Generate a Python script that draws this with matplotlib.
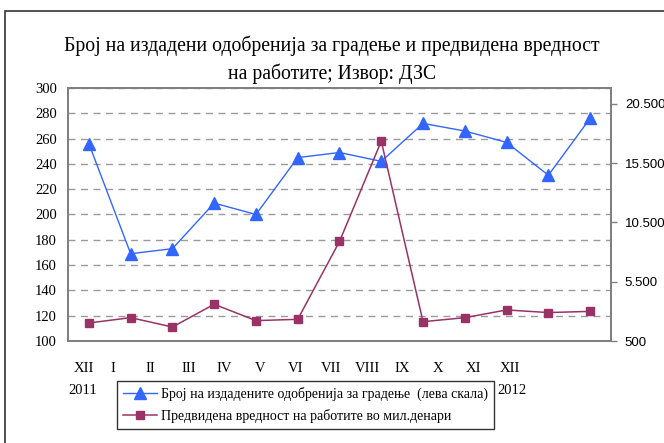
import matplotlib
matplotlib.use("Agg")
import matplotlib.pyplot as plt
from matplotlib.patches import Rectangle

# data
months = ["XII", "I", "II", "III", "IV", "V", "VI", "VII", "VIII", "IX", "X", "XI", "XII"]
years = ["2011", "2012"]
permits = [256, 169, 173, 209, 200, 245, 249, 242, 272, 266, 257, 231, 276]
value_mkd = [2020, 2470, 1680, 3600, 2220, 2330, 8900, 17360, 2130, 2470, 3120, 2900, 3000]
left_ticks = [100, 120, 140, 160, 180, 200, 220, 240, 260, 280, 300]
right_ticks = [500, 5500, 10500, 15500, 20500]
right_labels = ["500", "5.500", "10.500", "15.500", "20.500"]

title = "Број на издадени одобренија за градење и предвидена вредност\nна работите; Извор: ДЗС"
label_permits = "Број на издадените одобренија за градење  (лева скала)"
label_value = "Предвидена вредност на работите во мил.денари"

W, H = 664, 443
serif = "Liberation Serif"
blue = "#3366ff"
purple = "#993366"

fig = plt.figure(figsize=(W / 100, H / 100), dpi=100)

# outer chart border (cut off at right / bottom like the screenshot)
fig.patches.append(Rectangle((5 / W, -0.05), 1.1, 1 - 11 / H + 0.05, transform=fig.transFigure,
                             fill=False, edgecolor="#333333", linewidth=1.2))

ax = fig.add_axes([68 / W, 1 - 341 / H, (611 - 68) / W, (341 - 88) / H])
ax2 = ax.twinx()

x = list(range(len(months)))
ax.plot(x, permits, color=blue, linewidth=1.0, marker="^", markersize=8,
        label=label_permits, zorder=3)
ax2.plot(x, value_mkd, color=purple, linewidth=1.1, marker="s", markersize=5.5,
         label=label_value, zorder=3)

ax.set_xlim(-0.5, len(months) - 0.5)
ax.set_ylim(100, 300)
ax.set_yticks(left_ticks)
ax.set_yticklabels([str(t) for t in left_ticks], fontfamily=serif, fontsize=10.5)
ax.tick_params(axis="y", length=0, pad=8)
ax.set_xticks([])
ax.yaxis.grid(True, color="#9a9a9a", linestyle=(0, (5, 4)), linewidth=1.0)
ax.set_axisbelow(True)

ax2.set_ylim(500, 21850)
ax2.set_yticks(right_ticks)
ax2.set_yticklabels(right_labels, fontfamily="Liberation Sans", fontsize=9.5)
ax2.tick_params(axis="y", length=4, width=1, color="#808080", pad=6)

for a in (ax, ax2):
    for s in a.spines.values():
        s.set_color("#7f7f7f")
        s.set_linewidth(1.3)

fig.text(332 / W, 1 - 60 / H, title, ha="center", va="center", fontfamily=serif,
         fontsize=14.2, linespacing=1.5)

# category labels below the plot (positioned as in the reference)
month_x = [84, 113, 150, 189, 224, 260, 296, 331, 367, 402, 438, 473, 510]
for px, m in zip(month_x, months):
    fig.text(px / W, 1 - 368 / H, m, ha="center", va="center", fontfamily=serif, fontsize=10.5)
fig.text(83 / W, 1 - 391 / H, years[0], ha="center", va="center", fontfamily=serif, fontsize=10.5)
fig.text(512 / W, 1 - 391 / H, years[1], ha="center", va="center", fontfamily=serif, fontsize=10.5)

h1, l1 = ax.get_legend_handles_labels()
h2, l2 = ax2.get_legend_handles_labels()
leg = fig.legend(h1 + h2, l1 + l2, loc="upper left", bbox_to_anchor=(117 / W, 1 - 381 / H),
                 prop={"family": serif, "size": 10}, frameon=True, fancybox=False,
                 edgecolor="black", handlelength=2.4, handletextpad=0.3,
                 labelspacing=0.55, borderpad=0.45, borderaxespad=0)
leg.get_frame().set_linewidth(1.0)

fig.savefig("out.png", dpi=100)
